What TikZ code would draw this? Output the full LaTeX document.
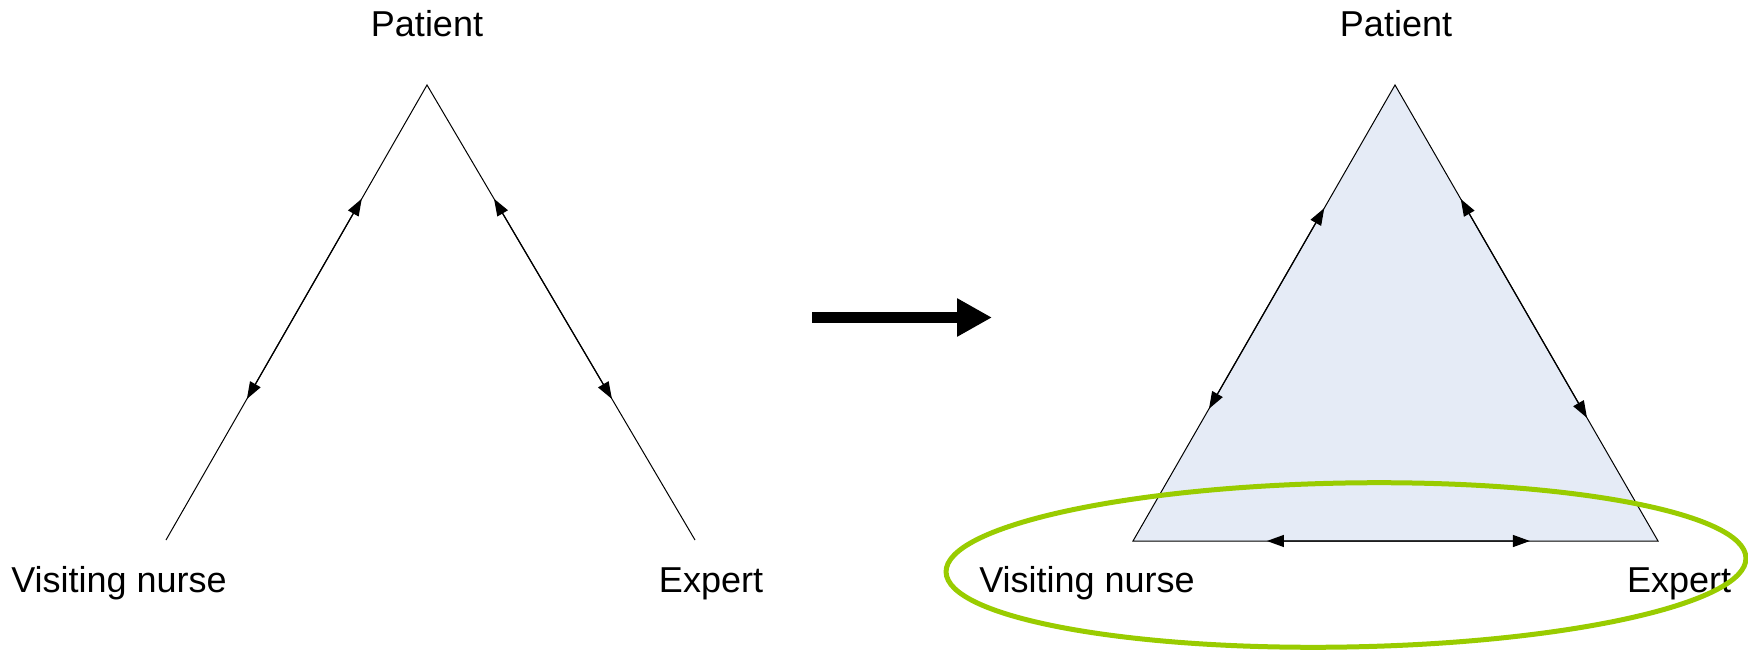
\documentclass[tikz,border=0pt]{standalone}
\usepackage{fontspec}
\setmainfont{Liberation Sans}
\usetikzlibrary{arrows.meta,calc}
\definecolor{triblue}{HTML}{E5EBF6}
\definecolor{ringgreen}{HTML}{99CC00}
\begin{document}
\begin{tikzpicture}[x=0.5pt,y=-0.5pt,
    every node/.style={font=\fontsize{18}{22}\selectfont,anchor=base},
    side/.style={line width=0.5pt},
    twoway/.style={line width=0.6pt,{Triangle[length=8.5pt,width=6pt]}-{Triangle[length=8.5pt,width=6pt]}}]
  \useasboundingbox (0,0) rectangle (1748,651);
  % before
  \coordinate (P1) at (427,85);
  \coordinate (N1) at (166,540);
  \coordinate (E1) at (695,540);
  \node (patient1) at (427,37) {Patient};
  \node (nurse1) at (119,592) {Visiting nurse};
  \node (expert1) at (711,592) {Expert};
  \draw[side] (N1) -- (P1) -- (E1);
  \draw[twoway] ($(P1)!0.25!(N1)$) -- ($(P1)!0.69!(N1)$);
  \draw[twoway] ($(P1)!0.25!(E1)$) -- ($(P1)!0.69!(E1)$);
  % big arrow
  \coordinate (from) at (812,317.5);
  \coordinate (to) at (992,317.5);
  \draw[line width=5.5pt,-{Triangle[length=17.5pt,width=18pt]}] (from) -- (to);
  % after
  \coordinate (P2) at (1395,85);
  \coordinate (N2) at (1133,541);
  \coordinate (E2) at (1658,541);
  \filldraw[side,fill=triblue] (P2) -- (N2) -- (E2) -- cycle;
  \draw[twoway] ($(P2)!0.27!(N2)$) -- ($(P2)!0.71!(N2)$);
  \draw[twoway] ($(P2)!0.25!(E2)$) -- ($(P2)!0.73!(E2)$);
  \draw[twoway] ($(N2)!0.255!(E2)$) -- ($(N2)!0.756!(E2)$);
  \node (patient2) at (1396,37) {Patient};
  \node (nurse2) at (1087,592) {Visiting nurse};
  \node (expert2) at (1679,592) {Expert};
  \coordinate (ring) at (1346,565);
  \draw[ringgreen,line width=2.5pt] (ring) ellipse [x radius=400, y radius=82, rotate=1];
\end{tikzpicture}
\end{document}
